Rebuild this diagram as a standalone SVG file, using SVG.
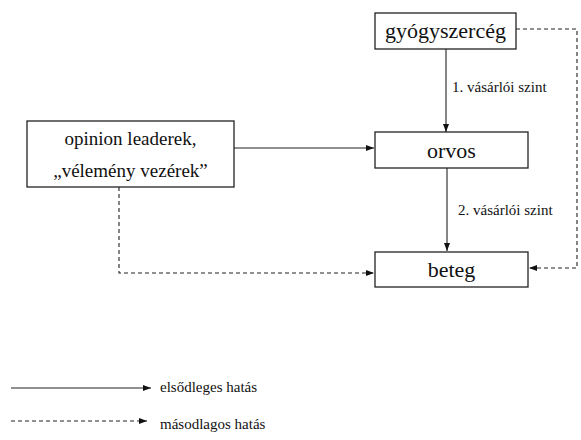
<svg xmlns="http://www.w3.org/2000/svg" width="581" height="440" viewBox="0 0 581 440" font-family="Liberation Serif, Times New Roman, DejaVu Serif, serif">
  <style>
    .box { fill: #ffffff; stroke: #222222; stroke-width: 1.3; }
    .big { font-size: 22px; text-anchor: middle; fill: #111111; }
    .mid { font-size: 19px; text-anchor: middle; fill: #111111; }
    .small { font-size: 15px; fill: #111111; }
    .solid { fill: none; stroke: #222222; stroke-width: 1.1; marker-end: url(#tip); }
    .dash { fill: none; stroke: #222222; stroke-width: 1.1; stroke-dasharray: 4 3; marker-end: url(#tip); }
  </style>
  <defs>
    <marker id="tip" viewBox="0 0 8 6" refX="8" refY="3" markerWidth="8" markerHeight="6" markerUnits="userSpaceOnUse" orient="auto">
      <path d="M0,0 L8,3 L0,6 z" fill="#111111"/>
    </marker>
  </defs>

  <rect width="581" height="440" fill="#ffffff"/>

  <g id="connectors">
    <path class="solid" d="M446,49 V132"/>
    <path class="solid" d="M447,168 V251"/>
    <path class="solid" d="M234,148 H374"/>
    <path class="dash" d="M119,187 V273 H374"/>
    <path class="dash" d="M516,29 H577 V268 H529"/>
  </g>

  <g id="gyogyszerceg">
    <rect class="box" x="375" y="13" width="141" height="36"/>
    <text class="big" x="445.5" y="38" font-family="Liberation Serif">gyógyszercég</text>
  </g>

  <g id="orvos">
    <rect class="box" x="375" y="132" width="153" height="36"/>
    <text class="big" x="451.5" y="158" font-family="Liberation Serif">orvos</text>
  </g>

  <g id="beteg">
    <rect class="box" x="375" y="252" width="153" height="35"/>
    <text class="big" x="451.5" y="277" font-family="Liberation Serif">beteg</text>
  </g>

  <g id="opinion-leaderek">
    <rect class="box" x="27" y="121" width="207" height="66"/>
    <text class="mid" x="130.5" y="145" font-family="Liberation Serif">opinion leaderek,</text>
    <text class="mid" x="130.5" y="177" font-family="Liberation Serif">„vélemény vezérek”</text>
  </g>

  <g id="labels">
    <text class="small" x="452" y="92" font-family="Liberation Serif">1. vásárlói szint</text>
    <text class="small" x="458" y="215" font-family="Liberation Serif">2. vásárlói szint</text>
  </g>

  <g id="legend">
    <path class="solid" d="M11,388 H151"/>
    <text class="small" x="160" y="392" font-family="Liberation Serif">elsődleges hatás</text>
    <path class="dash" d="M11,421 H147"/>
    <text class="small" x="160" y="429" font-family="Liberation Serif">másodlagos hatás</text>
  </g>
</svg>
